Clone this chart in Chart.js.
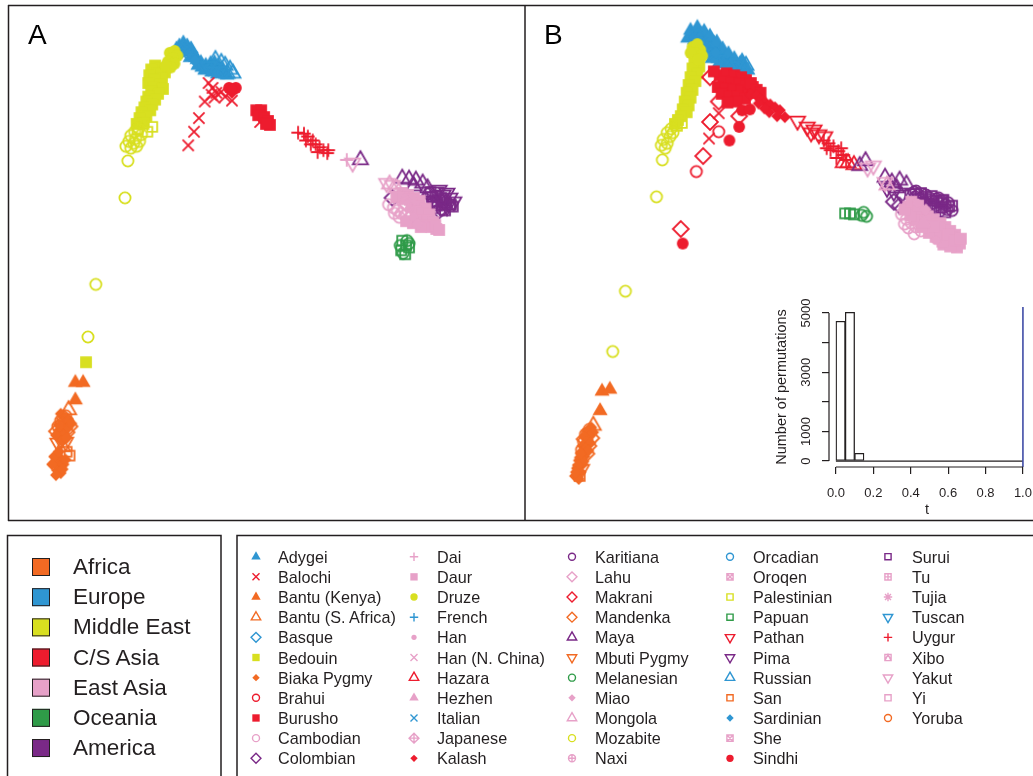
<!DOCTYPE html>
<html><head><meta charset="utf-8">
<script src="https://cdn.jsdelivr.net/npm/chart.js@4.4.1/dist/chart.umd.min.js"></script>
<style>
html,body{margin:0;padding:0;background:#fff;}
#page{position:relative;width:1033px;height:776px;overflow:hidden;font-family:"Liberation Sans",Arial,Helvetica,sans-serif;color:#231f20;}
canvas{position:absolute;}
.lg{position:absolute;font-size:16.2px;line-height:20px;white-space:nowrap;}
.rg{position:absolute;font-size:22.5px;line-height:26px;white-space:nowrap;}
.pl{position:absolute;font-size:28px;line-height:28px;color:#000;}
</style></head><body><div id="page">
<canvas id="cL" width="1033" height="776" style="left:0;top:0;width:1033px;height:776px"></canvas>
<canvas id="cA" width="515" height="513" style="left:9px;top:7px;width:515px;height:513px"></canvas>
<canvas id="cB" width="507" height="513" style="left:526px;top:7px;width:507px;height:513px"></canvas>
<canvas id="cH" width="273" height="230" style="left:760px;top:290px;width:273px;height:230px"></canvas>
<div class="pl" style="left:28px;top:21px">A</div>
<div class="pl" style="left:544px;top:21px">B</div>
<div id="legends"></div>
</div>
<script>
// ---------------- DATA ----------------
const regionNames = ["Africa","Europe","Middle East","C/S Asia","East Asia","Oceania","America"];
const populationNames = [
 "Adygei","Balochi","Bantu (Kenya)","Bantu (S. Africa)","Basque","Bedouin","Biaka Pygmy","Brahui","Burusho","Cambodian","Colombian",
 "Dai","Daur","Druze","French","Han","Han (N. China)","Hazara","Hezhen","Italian","Japanese","Kalash",
 "Karitiana","Lahu","Makrani","Mandenka","Maya","Mbuti Pygmy","Melanesian","Miao","Mongola","Mozabite","Naxi",
 "Orcadian","Oroqen","Palestinian","Papuan","Pathan","Pima","Russian","San","Sardinian","She","Sindhi",
 "Surui","Tu","Tujia","Tuscan","Uygur","Xibo","Yakut","Yi","Yoruba"];
const populationRegion = [
 "Europe","C/S Asia","Africa","Africa","Europe","Middle East","Africa","C/S Asia","C/S Asia","East Asia","America",
 "East Asia","East Asia","Middle East","Europe","East Asia","East Asia","C/S Asia","East Asia","Europe","East Asia","C/S Asia",
 "America","East Asia","C/S Asia","Africa","America","Africa","Oceania","East Asia","East Asia","Middle East","East Asia",
 "Europe","East Asia","Middle East","Oceania","C/S Asia","America","Europe","Africa","Europe","East Asia","C/S Asia",
 "America","East Asia","East Asia","Europe","C/S Asia","East Asia","East Asia","East Asia","Africa"];

// Panel A (MDS coordinates: [population, dim1, dim2])
const africaA = [
 ["Bantu (Kenya)",70,386],["Bantu (Kenya)",78,386],["Bantu (Kenya)",70,404],
 ["Bantu (S. Africa)",63,414],["Bantu (S. Africa)",57,452],
 ["Yoruba",60,420],["Yoruba",55,425],["Yoruba",62,427],["Yoruba",52,431],["Yoruba",58,433],["Yoruba",54,439],
 ["Mandenka",59,423],["Mandenka",64,431],["Mandenka",56,429],["Mandenka",61,437],["Mandenka",51,436],["Mandenka",57,442],
 ["Mbuti Pygmy",55,445],["Mbuti Pygmy",60,447],["Mbuti Pygmy",52,448],["San",61,457],["San",64,461],
 ["Biaka Pygmy",55,418],["Biaka Pygmy",60,422],["Biaka Pygmy",57,427],["Biaka Pygmy",63,425],["Biaka Pygmy",62,433],["Biaka Pygmy",53,435],
 ["Biaka Pygmy",58,440],["Biaka Pygmy",50,440],["Biaka Pygmy",56,446],["Biaka Pygmy",61,443],["Biaka Pygmy",66,428],["Biaka Pygmy",54,430],
 ["Biaka Pygmy",52,462],["Biaka Pygmy",56,466],["Biaka Pygmy",49,468],["Biaka Pygmy",54,472],["Biaka Pygmy",51,476],["Biaka Pygmy",55,479],
 ["Biaka Pygmy",58,470],["Biaka Pygmy",48,462],["Biaka Pygmy",60,465],["Biaka Pygmy",53,457],["Biaka Pygmy",57,475],["Biaka Pygmy",50,481],["Biaka Pygmy",46,470]];
const europeA = [
 ["Adygei",174,43],["Adygei",178,46],["Adygei",177,40],["Adygei",181,37],["Adygei",185,40],["Adygei",189,43],["Adygei",183,45],["Adygei",192,50],
 ["Adygei",195,54],["Adygei",199,57],["Adygei",204,60],["Adygei",209,58],["Adygei",213,57],["Adygei",217,60],["Adygei",221,63],["Adygei",212,63],
 ["Adygei",206,64],["Adygei",200,62],["Adygei",218,66],["Adygei",196,60],["Adygei",203,65],["Adygei",210,67],["Adygei",216,69],["Adygei",226,70],["Adygei",188,52],
 ["Russian",224,60],["Russian",229,64],["Russian",232,68],["Russian",226,68],["Russian",214,54],["Russian",220,57],
 ["French",182,43],["French",190,49],["French",197,58],["French",210,62],["Basque",179,44],["Basque",187,47],
 ["Italian",203,62],["Italian",215,64],["Orcadian",222,67],["Sardinian",193,55],["Tuscan",207,61]];
const middleEastA = [
 ["Bedouin",152,60],["Bedouin",157,63],["Bedouin",148,64],["Bedouin",162,67],["Bedouin",154,68],["Bedouin",146,70],["Bedouin",159,73],["Bedouin",151,74],
 ["Bedouin",145,78],["Bedouin",157,79],["Bedouin",150,82],["Bedouin",160,84],["Bedouin",148,87],["Bedouin",155,89],["Bedouin",145,92],["Bedouin",152,95],
 ["Bedouin",143,97],["Bedouin",149,100],["Bedouin",141,103],["Bedouin",147,106],["Bedouin",138,108],["Bedouin",143,112],["Bedouin",136,114],["Bedouin",140,118],
 ["Bedouin",133,120],["Bedouin",81,365],
 ["Palestinian",149,123],["Palestinian",140,120],["Palestinian",134,126],["Palestinian",144,128],
 ["Mozabite",135,125],["Mozabite",131,128],["Mozabite",138,131],["Mozabite",127,132],["Mozabite",132,135],["Mozabite",125,138],["Mozabite",130,140],
 ["Mozabite",136,138],["Mozabite",122,143],["Mozabite",127,145],["Mozabite",133,143],["Mozabite",124,158],["Mozabite",121,196],["Mozabite",91,285],["Mozabite",83,339],
 ["Druze",167,47],["Druze",172,45],["Druze",175,50],["Druze",170,53],["Druze",165,56],["Druze",172,58],["Druze",168,62],["Druze",163,60]];
const csAsiaA = [
 ["Balochi",207,78],["Balochi",211,83],["Balochi",203,97],["Balochi",215,88],["Balochi",213,93],["Balochi",220,87],["Balochi",224,92],["Balochi",231,96],
 ["Balochi",197,114],["Balochi",192,128],["Balochi",186,142],["Balochi",210,90],["Balochi",260,118],
 ["Sindhi",228,83],["Sindhi",235,83],["Kalash",231,88],["Kalash",231,84],
 ["Burusho",256,106],["Burusho",261,106],["Burusho",258,111],["Burusho",264,113],["Burusho",268,117],["Burusho",270,121],["Burusho",266,120],
 ["Uygur",299,129],["Uygur",305,130],["Uygur",309,133],["Uygur",307,137],["Uygur",314,137],["Uygur",317,141],["Uygur",321,144],["Uygur",325,147],
 ["Uygur",329,150],["Uygur",319,149],["Uygur",312,141],["Uygur",330,147]];
const americaA = [
 ["Maya",363,157],["Maya",406,176],["Maya",413,177],["Maya",420,178],["Maya",427,181],["Maya",418,184],["Maya",432,186],
 ["Pima",441,190],["Pima",448,193],["Pima",455,196],["Pima",459,200],["Pima",452,205],["Pima",445,198],["Pima",444,188],["Pima",452,191],
 ["Surui",437,195],["Surui",442,200],["Surui",447,203],["Surui",449,198],["Surui",455,203],["Surui",435,190],["Surui",440,194],["Surui",446,196],
 ["Surui",451,201],["Surui",456,203],["Surui",442,204],["Surui",450,209],["Surui",458,205],["Surui",438,202],
 ["Karitiana",433,192],["Karitiana",437,199],["Karitiana",447,208],["Karitiana",440,206],
 ["Colombian",396,196],["Colombian",444,209],["Colombian",430,198]];
const eastAsiaA = [
 ["Yakut",355,160],["Yakut",390,181],["Yakut",396,183],["Dai",349,157],["Mongola",393,182],["Mongola",400,186],
 ["Cambodian",392,203],["Cambodian",397,206],["Cambodian",401,209],["Cambodian",405,212],["Cambodian",409,214],["Cambodian",414,216],["Cambodian",398,212],["Cambodian",403,216],
 ["Daur",406,191],["Daur",412,193],["Daur",418,196],["Daur",424,199],["Hezhen",409,199],["Daur",416,202],["Daur",423,205],["Daur",430,207],
 ["Han",413,207],["Daur",420,210],["Daur",427,212],["Daur",434,213],["Han",418,216],["Daur",425,219],["Daur",432,219],["Daur",438,221],
 ["Daur",429,224],["Daur",436,226],["Daur",441,228],["Miao",422,223],["Lahu",411,203],
 ["Daur",400,195],["Daur",407,196],["Daur",414,198],["Daur",440,224],["Daur",444,229],["Daur",425,226],["Daur",417,222],["Daur",410,220]];
const oceaniaA = [
 ["Melanesian",411,240],["Melanesian",407,253],["Melanesian",413,243],["Melanesian",404,245],
 ["Papuan",406,240],["Papuan",410,245],["Papuan",405,250],["Papuan",409,254],["Papuan",413,247]];

// Panel B
const africaB = [
 ["Bantu (Kenya)",597,395],["Bantu (Kenya)",605,393],["Bantu (Kenya)",595,415],
 ["Bantu (S. Africa)",588,430],["Yoruba",584,434],["Yoruba",580,439],["Mandenka",586,443],["Yoruba",578,447],["Mandenka",583,451],
 ["Yoruba",576,455],["Mandenka",581,459],["Mbuti Pygmy",576,475],["San",574,482],["Yoruba",582,438],["Mandenka",579,444],
 ["Biaka Pygmy",586,432],["Biaka Pygmy",582,436],["Biaka Pygmy",588,437],["Biaka Pygmy",584,441],["Biaka Pygmy",579,442],["Biaka Pygmy",581,447],
 ["Biaka Pygmy",577,451],["Biaka Pygmy",585,448],["Biaka Pygmy",580,454],["Biaka Pygmy",575,458],["Biaka Pygmy",579,462],["Biaka Pygmy",573,466],
 ["Biaka Pygmy",577,470],["Biaka Pygmy",571,474],["Biaka Pygmy",575,478],["Biaka Pygmy",569,482],["Biaka Pygmy",573,485],["Biaka Pygmy",583,456],
 ["Biaka Pygmy",574,463],["Biaka Pygmy",578,467],["Biaka Pygmy",572,471],["Biaka Pygmy",570,478],["Biaka Pygmy",575,459]];
const europeB = [
 ["Adygei",685,32],["Adygei",689,28],["Adygei",694,26],["Adygei",699,28],["Adygei",692,34],["Adygei",699,35],["Adygei",705,33],["Adygei",704,40],
 ["Adygei",711,42],["Adygei",709,48],["Adygei",716,47],["Adygei",716,53],["Adygei",722,52],["Adygei",724,58],["Adygei",729,55],["Adygei",734,60],
 ["Adygei",739,58],["Adygei",744,62],["Adygei",738,64],["Adygei",731,63],["Adygei",720,57],["Adygei",712,37],
 ["Adygei",688,24],["Adygei",695,21],["Adygei",702,25],["Adygei",708,30],["Adygei",715,36],["Adygei",721,43],["Adygei",727,48],["Adygei",733,53],
 ["Adygei",741,55],["Adygei",747,65],["Adygei",742,66],["Adygei",727,62],["Adygei",717,58],["Adygei",710,53],["Adygei",703,46],
 ["Russian",745,60],["Russian",740,62],["French",690,30],["French",702,38],["French",718,50],["Basque",696,31],["Basque",708,45],
 ["Italian",726,57],["Orcadian",733,62],["Sardinian",714,47],["Tuscan",736,58]];
const middleEastB = [
 ["Bedouin",692,57],["Bedouin",697,61],["Bedouin",690,63],["Bedouin",695,68],["Bedouin",688,72],["Bedouin",693,76],["Bedouin",686,80],["Bedouin",690,85],
 ["Bedouin",684,88],["Bedouin",688,93],["Bedouin",682,97],["Bedouin",686,101],["Bedouin",680,105],["Bedouin",684,108],["Bedouin",678,112],["Bedouin",675,116],["Bedouin",672,120],
 ["Palestinian",679,119],["Palestinian",674,122],
 ["Mozabite",668,125],["Mozabite",664,129],["Mozabite",667,133],["Mozabite",660,136],["Mozabite",664,140],["Mozabite",658,142],["Mozabite",662,145],["Mozabite",670,129],
 ["Mozabite",659,157],["Mozabite",653,195],["Mozabite",621,292],["Mozabite",608,354],
 ["Druze",690,41],["Druze",695,38],["Druze",698,44],["Druze",693,48],["Druze",700,50],["Druze",688,47],["Druze",696,54]];
const csAsiaB = [
 ["Makrani",708,72],["Makrani",717,97],["Makrani",708,118],["Makrani",701,153],["Makrani",678,228],["Makrani",738,112],
 ["Brahui",717,128],["Brahui",694,169],["Brahui",738,93],["Balochi",707,135],["Balochi",717,109],
 ["Burusho",718,70],["Burusho",725,68],["Burusho",733,70],["Burusho",740,72],["Burusho",745,75],["Burusho",722,76],["Burusho",730,77],["Burusho",738,78],
 ["Burusho",745,81],["Burusho",716,82],["Burusho",724,84],["Burusho",732,85],["Burusho",740,86],["Burusho",748,88],["Burusho",720,89],["Burusho",728,92],
 ["Burusho",736,92],["Burusho",752,82],["Burusho",712,66],["Burusho",750,78],["Burusho",756,85],["Burusho",744,94],["Burusho",735,97],["Burusho",726,98],["Burusho",760,88],
 ["Kalash",750,90],["Kalash",756,91],["Kalash",760,95],["Kalash",765,98],["Kalash",770,100],["Kalash",775,103],["Kalash",780,106],["Kalash",769,108],
 ["Kalash",777,112],["Kalash",785,113],["Kalash",764,104],["Kalash",758,99],
 ["Pathan",798,117],["Pathan",808,123],["Pathan",815,126],["Pathan",820,131],["Pathan",826,133],["Pathan",812,129],
 ["Uygur",825,137],["Uygur",830,140],["Uygur",835,143],["Uygur",832,147],["Uygur",840,148],["Uygur",845,152],["Uygur",838,155],["Uygur",848,157],
 ["Uygur",828,145],["Uygur",843,145],["Hazara",850,160],["Hazara",856,162],["Hazara",845,160],
 ["Sindhi",738,123],["Sindhi",728,137],["Sindhi",741,106],["Sindhi",749,105],["Sindhi",680,243]];
const americaB = [
 ["Maya",868,158],["Maya",862,163],["Maya",888,175],["Maya",895,180],["Maya",903,178],["Maya",910,182],["Maya",900,186],
 ["Pima",890,186],["Pima",897,190],["Pima",905,193],["Colombian",897,200],["Colombian",903,204],
 ["Karitiana",918,190],["Karitiana",922,193],["Karitiana",926,195],["Surui",930,197],["Karitiana",934,196],["Surui",938,199],["Karitiana",942,200],
 ["Surui",946,201],["Karitiana",950,203],["Surui",954,205],["Karitiana",952,208],["Surui",946,206],["Karitiana",940,204],["Surui",934,202],
 ["Karitiana",928,200],["Surui",922,197],["Karitiana",943,196],["Surui",948,198],
 ["Karitiana",920,189],["Surui",925,191],["Karitiana",930,193],["Surui",936,194],["Karitiana",941,197],["Surui",947,199],["Karitiana",953,201],
 ["Surui",957,204],["Karitiana",957,209],["Surui",950,211],["Karitiana",944,210],["Surui",938,207],["Karitiana",931,205],["Surui",925,202],
 ["Karitiana",919,195],["Surui",914,192]];
const eastAsiaB = [
 ["Yakut",870,165],["Yakut",876,163],["Yakut",888,180],["Mongola",890,183],
 ["Cambodian",905,213],["Cambodian",910,218],["Cambodian",915,222],["Cambodian",920,226],["Cambodian",925,230],["Cambodian",912,227],["Cambodian",918,233],["Cambodian",908,223],
 ["Daur",912,205],["Daur",918,208],["Daur",925,212],["Daur",932,215],["Daur",938,218],["Daur",945,222],["Daur",950,226],["Daur",955,230],
 ["Daur",960,234],["Daur",963,239],["Daur",958,243],["Daur",950,238],["Daur",942,233],["Daur",935,228],["Hezhen",928,222],["Daur",948,244],
 ["Han",940,240],["Han",921,201],["Miao",930,208],["Daur",956,237],["Daur",944,228],["Daur",937,223],
 ["Daur",965,243],["Daur",962,247],["Daur",955,246],["Daur",947,241],["Daur",940,236],["Daur",933,232],["Daur",926,226],["Daur",920,219],
 ["Daur",914,214],["Daur",908,208],["Daur",915,200],["Daur",922,204],["Daur",953,234],["Daur",959,240],["Daur",966,238],["Daur",930,219],["Daur",938,225]];
const oceaniaB = [
 ["Papuan",847,212],["Papuan",852,212],["Papuan",856,213],["Melanesian",864,214],["Melanesian",869,215],["Melanesian",866,211]];

// Inset histogram: permutation distribution of t
const tBinCenters = [0.025,0.075,0.125,0.175,0.225,0.275,0.325,0.375,0.425,0.475,0.525,0.575,0.625,0.675,0.725,0.775,0.825,0.875,0.925,0.975];
const permutationCounts = [4720,5020,260,0,0,0,0,0,0,0,0,0,0,0,0,0,0,0,0,0];
const observedT = 1.0;
const tTicks = [0,0.2,0.4,0.6,0.8,1.0];
const countTicks = [0,1000,2000,3000,4000,5000];
const countTickLabels = ["0","1000","","3000","","5000"];

// ---------------- STYLE ----------------
const regionColors = {"Africa":"#f26a23","Europe":"#2f96d2","Middle East":"#d8df20","C/S Asia":"#ed1c2e","East Asia":"#e7a1c8","Oceania":"#2f9b48","America":"#7a2987"};
const popShape = {
 "Adygei":"triF","Balochi":"x","Bantu (Kenya)":"triF","Bantu (S. Africa)":"tri","Basque":"diamond","Bedouin":"squareF","Biaka Pygmy":"diamondF",
 "Brahui":"circle","Burusho":"squareF","Cambodian":"circle","Colombian":"diamond","Dai":"plus","Daur":"squareF","Druze":"circleF","French":"plus",
 "Han":"circleS","Han (N. China)":"x","Hazara":"tri","Hezhen":"triF","Italian":"x","Japanese":"diamondPlus","Kalash":"diamondF","Karitiana":"circle",
 "Lahu":"diamond","Makrani":"diamond","Mandenka":"diamond","Maya":"tri","Mbuti Pygmy":"dtri","Melanesian":"circle","Miao":"diamondF","Mongola":"tri",
 "Mozabite":"circle","Naxi":"circlePlus","Orcadian":"circle","Oroqen":"squareX","Palestinian":"square","Papuan":"square","Pathan":"dtri","Pima":"dtri",
 "Russian":"tri","San":"square","Sardinian":"diamondF","She":"squareX","Sindhi":"circleF","Surui":"square","Tu":"squarePlus","Tujia":"asterisk",
 "Tuscan":"dtri","Uygur":"plus","Xibo":"squareTri","Yakut":"dtri","Yi":"square","Yoruba":"circle"};
const INK = "#231f20";
const FONT = '"Liberation Sans", Arial, Helvetica, sans-serif';

function popColor(p){ return regionColors[populationRegion[populationNames.indexOf(p)]]; }

function drawShape(ctx, shape, cx, cy, R, color, lw){
  ctx.save();
  ctx.strokeStyle=color; ctx.fillStyle=color; ctx.lineWidth=lw; ctx.lineJoin="miter"; ctx.lineCap="butt";
  const h=R*0.886, d=Math.SQRT2*R;
  const P=(a,b,c2,e)=>{ctx.moveTo(a,b);ctx.lineTo(c2,e);};
  ctx.beginPath();
  switch(shape){
    case "circle": ctx.arc(cx,cy,R,0,2*Math.PI); ctx.stroke(); break;
    case "circleF": ctx.arc(cx,cy,R*1.05,0,2*Math.PI); ctx.fill(); break;
    case "circleS": ctx.arc(cx,cy,R*0.75,0,2*Math.PI); ctx.fill(); break;
    case "square": ctx.rect(cx-h,cy-h,2*h,2*h); ctx.stroke(); break;
    case "squareF": {const q=R*1.05; ctx.rect(cx-q,cy-q,2*q,2*q); ctx.fill(); break;}
    case "tri": case "triF": case "dtri": {
      const s=shape==="dtri"?-1:1, r=1.555*R, yc=0.778*R, xc=1.347*R;
      ctx.moveTo(cx,cy-s*r); ctx.lineTo(cx+xc,cy+s*yc); ctx.lineTo(cx-xc,cy+s*yc); ctx.closePath();
      if(shape==="triF") ctx.fill(); else ctx.stroke(); break;}
    case "diamond": ctx.moveTo(cx,cy-d); ctx.lineTo(cx+d,cy); ctx.lineTo(cx,cy+d); ctx.lineTo(cx-d,cy); ctx.closePath(); ctx.stroke(); break;
    case "diamondF": {const q=R*1.05; ctx.moveTo(cx,cy-q); ctx.lineTo(cx+q,cy); ctx.lineTo(cx,cy+q); ctx.lineTo(cx-q,cy); ctx.closePath(); ctx.fill(); break;}
    case "plus": {const q=R*1.2; P(cx-q,cy,cx+q,cy); P(cx,cy-q,cx,cy+q); ctx.stroke(); break;}
    case "x": P(cx-R,cy-R,cx+R,cy+R); P(cx-R,cy+R,cx+R,cy-R); ctx.stroke(); break;
    case "asterisk": {const q=R*1.2; P(cx-q,cy,cx+q,cy); P(cx,cy-q,cx,cy+q); P(cx-R*0.85,cy-R*0.85,cx+R*0.85,cy+R*0.85); P(cx-R*0.85,cy+R*0.85,cx+R*0.85,cy-R*0.85); ctx.stroke(); break;}
    case "circlePlus": ctx.arc(cx,cy,R,0,2*Math.PI); P(cx-R,cy,cx+R,cy); P(cx,cy-R,cx,cy+R); ctx.stroke(); break;
    case "diamondPlus": ctx.moveTo(cx,cy-d); ctx.lineTo(cx+d,cy); ctx.lineTo(cx,cy+d); ctx.lineTo(cx-d,cy); ctx.closePath(); P(cx-d,cy,cx+d,cy); P(cx,cy-d,cx,cy+d); ctx.stroke(); break;
    case "squareX": ctx.rect(cx-h,cy-h,2*h,2*h); P(cx-h,cy-h,cx+h,cy+h); P(cx-h,cy+h,cx+h,cy-h); ctx.stroke(); break;
    case "squarePlus": ctx.rect(cx-h,cy-h,2*h,2*h); P(cx-h,cy,cx+h,cy); P(cx,cy-h,cx,cy+h); ctx.stroke(); break;
    case "squareTri": ctx.rect(cx-h,cy-h,2*h,2*h); ctx.moveTo(cx-h,cy+h); ctx.lineTo(cx,cy-h); ctx.lineTo(cx+h,cy+h); ctx.stroke(); break;
  }
  ctx.restore();
}

const markerCache = {};
function markerImage(p){
  if(markerCache[p]) return markerCache[p];
  const R=5.6, lw=1.8;
  let size=Math.ceil(2*(1.6*R+lw))+2; if(size%2) size++;
  const c=document.createElement("canvas"); c.width=size; c.height=size;
  drawShape(c.getContext("2d"), popShape[p], size/2, size/2, R, popColor(p), lw);
  markerCache[p]=c; return c;
}

function datasetsFor(regionArrays){
  const out=[];
  regionArrays.forEach(arr=>{
    const groups=new Map();
    arr.forEach(([p,x,y])=>{ if(!groups.has(p)) groups.set(p,[]); groups.get(p).push({x:x,y:y}); });
    groups.forEach((pts,p)=>out.push({label:p,data:pts,pointStyle:markerImage(p),pointRadius:6,pointHoverRadius:6,showLine:false}));
  });
  return out.reverse(); // first dataset is painted last
}

function scatterPanel(id, regionArrays, xmin, xmax, ymin, ymax){
  return new Chart(document.getElementById(id), {
    type:"scatter",
    data:{datasets:datasetsFor(regionArrays)},
    options:{responsive:false, animation:false, devicePixelRatio:1, events:[],
      layout:{padding:0},
      plugins:{legend:{display:false}, tooltip:{enabled:false}},
      scales:{x:{type:"linear",min:xmin,max:xmax,display:false},
              y:{type:"linear",min:ymin,max:ymax,reverse:true,display:false}}}
  });
}

scatterPanel("cA",[africaA,europeA,middleEastA,csAsiaA,americaA,eastAsiaA,oceaniaA],9,524,7,520);
scatterPanel("cB",[africaB,europeB,middleEastB,csAsiaB,americaB,eastAsiaB,oceaniaB],526,1033,7,520);

// ---------------- INSET HISTOGRAM ----------------
const Y_MIN=-200, Y_MAX=5200, X_MIN=-0.037, X_MAX=1.01;
const rAxes = {
  id:"rAxes",
  afterDraw(chart){
    const {ctx, scales:{x,y}, chartArea} = chart;
    ctx.save();
    ctx.strokeStyle=INK; ctx.lineWidth=1.2;
    ctx.beginPath();
    ctx.moveTo(x.getPixelForValue(tTicks[0]), chartArea.bottom); ctx.lineTo(x.getPixelForValue(tTicks[tTicks.length-1]), chartArea.bottom);
    ctx.moveTo(chartArea.left, y.getPixelForValue(countTicks[0])); ctx.lineTo(chartArea.left, y.getPixelForValue(countTicks[countTicks.length-1]));
    ctx.stroke();
    ctx.fillStyle=INK; ctx.font="13px "+FONT; ctx.textAlign="center"; ctx.textBaseline="middle";
    countTicks.forEach((v,i)=>{
      if(!countTickLabels[i]) return;
      ctx.save(); ctx.translate(chartArea.left-23, y.getPixelForValue(v)); ctx.rotate(-Math.PI/2);
      ctx.fillText(countTickLabels[i],0,0); ctx.restore();
    });
    ctx.restore();
  }
};
new Chart(document.getElementById("cH"), {
  type:"bar",
  data:{datasets:[
    {type:"line", data:[{x:observedT,y:Y_MIN},{x:observedT,y:Y_MAX}], borderColor:"#3f4ba6", borderWidth:1.6, pointRadius:0, fill:false},
    {type:"line", data:[{x:tTicks[0],y:0},{x:tTicks[tTicks.length-1],y:0}], borderColor:INK, borderWidth:1.2, pointRadius:0, fill:false},
    {type:"bar", data:tBinCenters.map((t,i)=>({x:t,y:permutationCounts[i]})), backgroundColor:"#ffffff", borderColor:INK, borderWidth:1.3,
     borderSkipped:false, barPercentage:1, categoryPercentage:1}
  ]},
  options:{responsive:false, animation:false, devicePixelRatio:1, events:[],
    layout:{padding:{top:17,right:8.2,left:0,bottom:0}},
    plugins:{legend:{display:false}, tooltip:{enabled:false}},
    scales:{
      x:{type:"linear", min:X_MIN, max:X_MAX, offset:false,
         afterFit:s=>{s.height=53; s.paddingLeft=0; s.paddingRight=0;},
         afterBuildTicks:s=>{s.ticks=tTicks.map(v=>({value:v}));},
         grid:{display:true, offset:false, drawOnChartArea:false, drawTicks:true, tickLength:7, color:INK, lineWidth:1.2},
         border:{display:false},
         ticks:{autoSkip:false, maxRotation:0, padding:12, color:INK, font:{family:FONT,size:13}, callback:v=>Number(v).toFixed(1)},
         title:{display:true, text:"t", color:INK, font:{family:FONT,size:14.5}, padding:{top:0,bottom:1}}},
      y:{type:"linear", min:Y_MIN, max:Y_MAX,
         afterFit:s=>{s.width=69; s.paddingTop=0; s.paddingBottom=0;},
         afterBuildTicks:s=>{s.ticks=countTicks.map(v=>({value:v}));},
         grid:{display:true, drawOnChartArea:false, drawTicks:true, tickLength:7, color:INK, lineWidth:1.2},
         border:{display:false},
         ticks:{display:false},
         title:{display:true, text:"Number of permutations", color:INK, font:{family:FONT,size:14.5}, padding:{top:13,bottom:0}}}
    }},
  plugins:[rAxes]
});

// ---------------- FRAMES & LEGENDS ----------------
(function(){
  const c=document.getElementById("cL"), ctx=c.getContext("2d");
  ctx.strokeStyle=INK; ctx.lineWidth=1.5;
  ctx.beginPath();
  ctx.moveTo(8,5.5); ctx.lineTo(1033,5.5);
  ctx.moveTo(8.5,5); ctx.lineTo(8.5,521);
  ctx.moveTo(525,5); ctx.lineTo(525,521);
  ctx.moveTo(8,520.5); ctx.lineTo(1033,520.5);
  ctx.rect(7.5,535.5,213.5,260);
  ctx.moveTo(1040,535.5); ctx.lineTo(237,535.5); ctx.lineTo(237,790);
  ctx.stroke();

  const L=document.getElementById("legends");
  regionNames.forEach((r,i)=>{
    const cy=567+i*30.17;
    ctx.fillStyle=regionColors[r]; ctx.fillRect(32,cy-9,18,18);
    ctx.lineWidth=1; ctx.strokeStyle=INK; ctx.strokeRect(32.5,cy-8.5,17,17);
    const d=document.createElement("div"); d.className="rg"; d.style.left="73px"; d.style.top=(cy-13)+"px"; d.textContent=r; L.appendChild(d);
  });
  const mx=[256,414,572,730,888], tx=[278,437,595,753,912];
  populationNames.forEach((p,i)=>{
    const col=Math.floor(i/11), row=i%11, cy=556.7+row*20.16;
    drawShape(ctx, popShape[p], mx[col], cy, 3.5, popColor(p), 1.4);
    const d=document.createElement("div"); d.className="lg"; d.style.left=tx[col]+"px"; d.style.top=(cy-10)+"px"; d.textContent=p; L.appendChild(d);
  });
})();
</script></body></html>
